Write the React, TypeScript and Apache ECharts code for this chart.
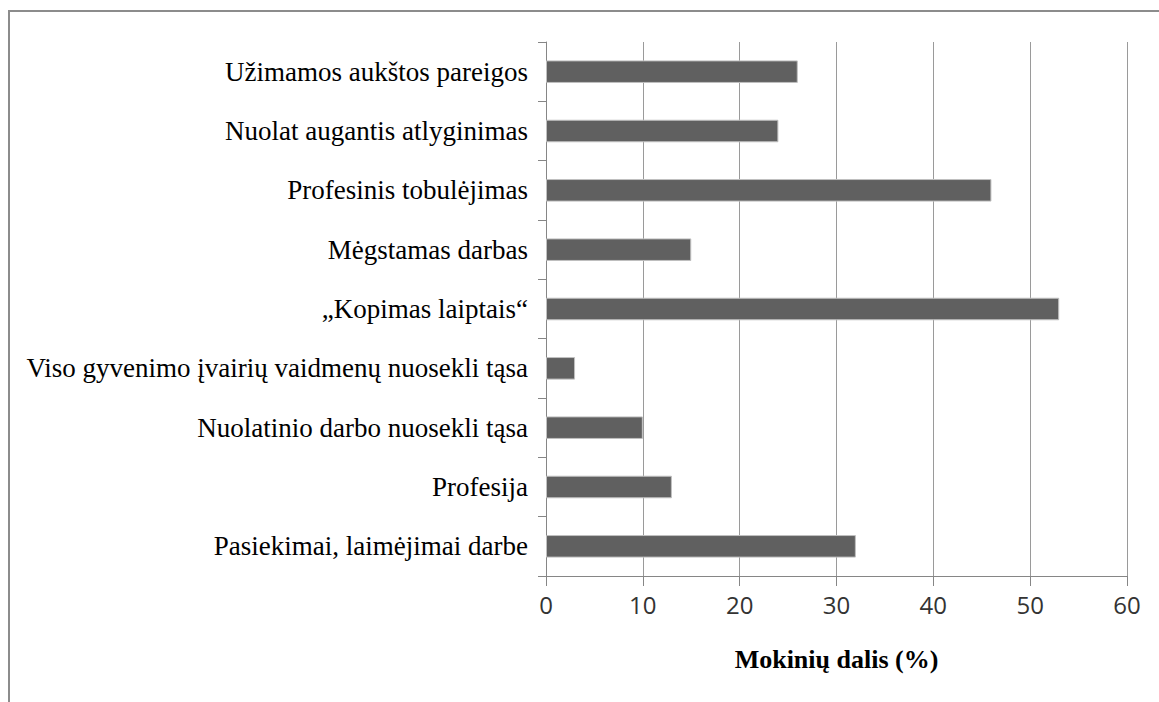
import React, { useEffect, useRef } from "react";
import * as echarts from "echarts";

const categories = [
  "Užimamos aukštos pareigos",
  "Nuolat augantis atlyginimas",
  "Profesinis tobulėjimas",
  "Mėgstamas darbas",
  "„Kopimas laiptais“",
  "Viso gyvenimo įvairių vaidmenų nuosekli tąsa",
  "Nuolatinio darbo nuosekli tąsa",
  "Profesija",
  "Pasiekimai, laimėjimai darbe",
];
const values = [26, 24, 46, 15, 53, 3, 10, 13, 32];
const xTicks = { min: 0, max: 60, interval: 10 };
const axisTitle = "Mokinių dalis (%)";

export default function App() {
  const ref = useRef<HTMLDivElement>(null);
  useEffect(() => {
    document.body.style.margin = "0";
    const chart = echarts.init(ref.current!, null, { renderer: "svg" });
    chart.setOption({
      animation: false,
      backgroundColor: "#ffffff",
      graphic: [
        {
          type: "rect",
          shape: { x: 9, y: 11, width: 1300, height: 900 },
          style: { fill: "none", stroke: "#8c8c8c", lineWidth: 2 },
          silent: true,
        },
      ],
      grid: { left: 546, right: 32, top: 42, bottom: 126, containLabel: false },
      xAxis: {
        type: "value",
        min: xTicks.min,
        max: xTicks.max,
        interval: xTicks.interval,
        axisLine: { show: true, lineStyle: { color: "#868686", width: 1 } },
        axisTick: { show: true, length: 10, lineStyle: { color: "#868686" } },
        splitLine: { show: true, lineStyle: { color: "#9a9a9a", width: 1 } },
        axisLabel: {
          fontFamily: "Open Sans",
          fontSize: 24,
          color: "#333333",
          margin: 16,
        },
        name: axisTitle,
        nameLocation: "middle",
        nameGap: 70,
        nameTextStyle: {
          fontFamily: "Liberation Serif",
          fontWeight: "bold",
          fontSize: 26,
          color: "#000000",
        },
      },
      yAxis: {
        type: "category",
        data: categories,
        inverse: true,
        axisLine: { show: true, lineStyle: { color: "#868686", width: 1 } },
        axisTick: { show: true, length: 8, lineStyle: { color: "#868686" } },
        axisLabel: {
          fontFamily: "Liberation Serif",
          fontSize: 27,
          color: "#000000",
          margin: 18,
        },
      },
      series: [
        {
          type: "bar",
          data: values,
          barWidth: "38%",
          itemStyle: { color: "#606060", borderColor: "#c0c0c0", borderWidth: 1 },
        },
      ],
    });
    return () => chart.dispose();
  }, []);
  return <div ref={ref} style={{ width: 1159, height: 702 }} />;
}
